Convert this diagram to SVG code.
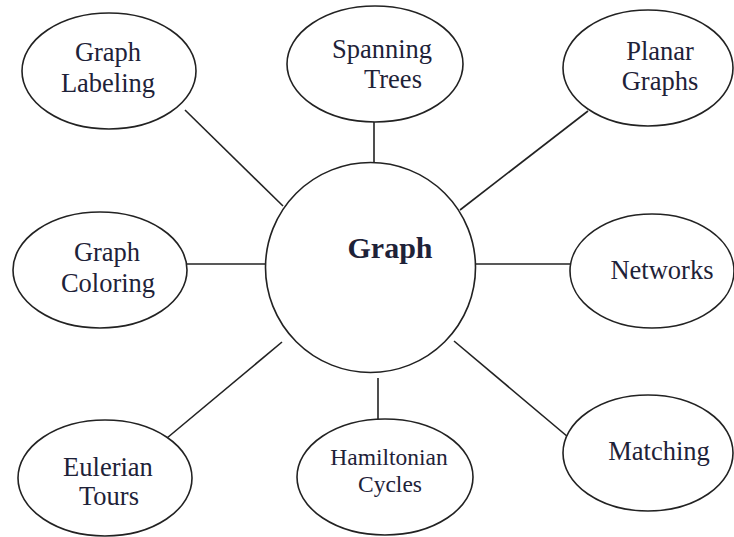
<svg xmlns="http://www.w3.org/2000/svg" width="734" height="537" viewBox="0 0 734 537">
<style>
.n{fill:#fff;stroke:#222;stroke-width:1.6}
.c line{stroke:#222;stroke-width:1.6}
text{font-family:"Liberation Serif","Times New Roman",serif;font-size:26.5px;fill:#1e2238;text-anchor:middle}
.sm{font-size:23.5px}
.b{font-weight:bold;font-size:30px}
</style>
<rect width="734" height="537" fill="#fff"/>
<g class="c" id="connectors">
<line x1="185" y1="110" x2="283" y2="206"/>
<line x1="374" y1="122" x2="374" y2="163"/>
<line x1="588" y1="111" x2="460" y2="210"/>
<line x1="187" y1="264" x2="265" y2="264"/>
<line x1="476" y1="264" x2="570" y2="264"/>
<line x1="167" y1="438" x2="282" y2="342"/>
<line x1="378" y1="378" x2="378" y2="420"/>
<line x1="454" y1="341" x2="568" y2="437"/>
</g>
<g id="graph"><circle class="n" cx="370.5" cy="267.5" r="105"/><text class="b" x="390" y="258">Graph</text></g>
<g id="labeling"><ellipse class="n" cx="109" cy="71" rx="87" ry="58"/><text x="108" y="61">Graph</text><text x="108" y="92">Labeling</text></g>
<g id="spanning"><ellipse class="n" cx="375" cy="64" rx="88" ry="58"/><text x="382" y="58">Spanning</text><text x="393" y="88">Trees</text></g>
<g id="planar"><ellipse class="n" cx="648" cy="68" rx="85" ry="58"/><text x="660" y="60">Planar</text><text x="660" y="90">Graphs</text></g>
<g id="coloring"><ellipse class="n" cx="100" cy="270" rx="87" ry="58"/><text x="107" y="261">Graph</text><text x="108" y="292">Coloring</text></g>
<g id="networks"><ellipse class="n" cx="652" cy="271" rx="82" ry="57"/><text x="662" y="279">Networks</text></g>
<g id="eulerian"><ellipse class="n" cx="105" cy="478" rx="87" ry="58"/><text x="108" y="476">Eulerian</text><text x="109" y="505">Tours</text></g>
<g id="hamiltonian"><ellipse class="n" cx="385" cy="477" rx="88" ry="58"/><text class="sm" x="389" y="465">Hamiltonian</text><text class="sm" x="390" y="492">Cycles</text></g>
<g id="matching"><ellipse class="n" cx="648" cy="453" rx="85" ry="58"/><text x="659" y="460">Matching</text></g>
</svg>
